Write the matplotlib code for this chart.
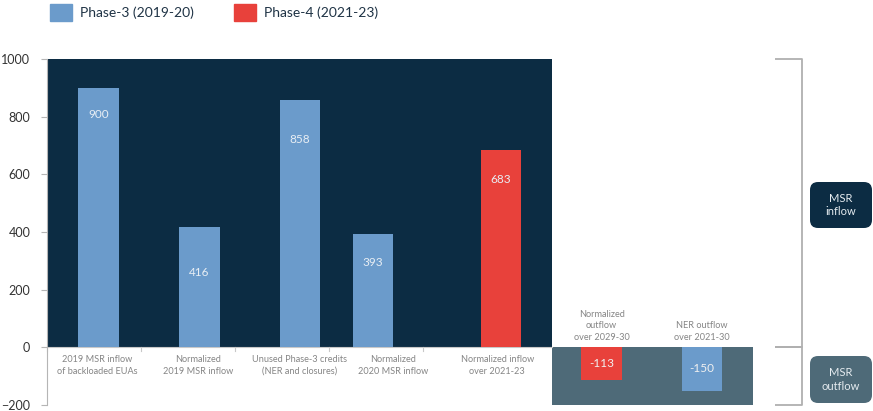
import matplotlib
matplotlib.use('Agg')
import matplotlib.pyplot as plt
from matplotlib.patches import Patch, Rectangle, FancyBboxPatch

# MSR inflow (2019-23) and outflow (2021-30) volumes, million allowances
inflow_labels = ['2019 MSR inflow\nof backloaded EUAs', 'Normalized\n2019 MSR inflow',
                 'Unused Phase-3 credits\n(NER and closures)', 'Normalized\n2020 MSR inflow',
                 'Normalized inflow\nover 2021-23']
inflow_values = [900, 416, 858, 393, 683]
inflow_phase = ['p3', 'p3', 'p3', 'p3', 'p4']

outflow_labels = ['Normalized\noutflow\nover 2029-30', 'NER outflow\nover 2021-30']
outflow_values = [-113, -150]
outflow_phase = ['p4', 'p3']

phase_names = {'p3': 'Phase-3 (2019-20)', 'p4': 'Phase-4 (2021-23)'}
colors = {'p3': '#6b9bcb', 'p4': '#e8413b'}
navy = '#0c2c43'
slate = '#4e6a78'
grey_text = '#858585'

# layout (x in slot units, one slot per inflow category)
inflow_x = [0.55, 1.62, 2.69, 3.47, 4.83]
inflow_label_x = [0.53, 1.61, 2.69, 3.68, 4.79]
inflow_text_drop = [93, 157, 137, 100, 100]
outflow_x = [5.90, 6.97]
bar_w = 0.43
navy_end = 5.37
x_max = 7.51

W, H = 873, 411
fig = plt.figure(figsize=(W / 100, H / 100), dpi=100)
plt.rcParams['font.family'] = ['Lato', 'DejaVu Sans']
ax = fig.add_axes([47 / W, 6 / H, (753 - 47) / W, (405 - 59) / H])
ax.set_xlim(0, x_max)
ax.set_ylim(-200, 1000)

# Backgrounds for the inflow and outflow blocks
ax.add_patch(Rectangle((0, 0), navy_end, 1000, color=navy, zorder=0, lw=0))
ax.add_patch(Rectangle((navy_end, -200), x_max - navy_end, 200, color=slate, zorder=0, lw=0))

for x, v, p, drop in zip(inflow_x, inflow_values, inflow_phase, inflow_text_drop):
    ax.bar(x, v, width=bar_w, color=colors[p], zorder=2)
    ax.text(x, v - drop, f'{v}', ha='center', va='center', color='#e8eef4', fontsize=8.5, zorder=3)

for x, lab in zip(inflow_label_x, inflow_labels):
    ax.text(x, -26, lab, ha='center', va='top', color=grey_text, fontsize=6.6, linespacing=1.45)

for x, v, p, lab in zip(outflow_x, outflow_values, outflow_phase, outflow_labels):
    ax.bar(x, v, width=bar_w, color=colors[p], zorder=2)
    ax.text(x, v / 2, f'{v}', ha='center', va='center', color='#f0f0f0', fontsize=8.5, zorder=3)
    ax.text(x, 20, lab, ha='center', va='bottom', color=grey_text, fontsize=6.6, linespacing=1.35)

# Axis styling
for s in ['top', 'right', 'bottom']:
    ax.spines[s].set_visible(False)
ax.spines['left'].set_color('#b5b5b5')
ax.set_yticks(range(-200, 1001, 200))
ax.tick_params(axis='y', length=4, width=0.8, color='#b5b5b5', labelsize=9, labelcolor='#333333', pad=8)
ax.set_xticks([])
ax.plot([0, navy_end], [0, 0], color='#c8c8c8', lw=0.8, zorder=1)
for k in range(5):
    ax.plot([k, k], [0, -12], color='#c8c8c8', lw=0.8, zorder=1, clip_on=False)

# Brackets grouping inflow and outflow
bx0, bx1 = 7.745, 8.03
kw = dict(color='#b0b0b0', lw=1.3, clip_on=False, solid_capstyle='butt')
ax.plot([bx0, bx1, bx1, bx0], [1000, 1000, 0, 0], **kw)
ax.plot([bx0, bx1, bx1, bx0], [0, 0, -200, -200], **kw)

# Rounded tags next to the brackets
for y0, h, fc, txt in [(1.83, 0.46, navy, 'MSR\ninflow'), (0.08, 0.47, slate, 'MSR\noutflow')]:
    box = FancyBboxPatch((8.10, y0), 0.62, h, boxstyle='round,pad=0,rounding_size=0.08',
                         transform=fig.dpi_scale_trans, fc=fc, ec='none')
    fig.add_artist(box)
    fig.text((8.10 + 0.31) * 100 / W, (y0 + h / 2) * 100 / H, txt, ha='center', va='center',
             color='#e6ecf0', fontsize=8, linespacing=1.3)

# Legend across the top
handles = [Patch(color=colors[p], label=phase_names[p]) for p in ['p3', 'p4']]
fig.legend(handles=handles, loc='upper left', bbox_to_anchor=(50 / W, 1 - 4 / H), ncol=2,
           frameon=False, fontsize=10, handlelength=1.55, handleheight=1.55,
           handletextpad=0.6, columnspacing=2.9, borderaxespad=0, borderpad=0,
           labelcolor='#1f3345')

fig.savefig('out.png', dpi=100)
